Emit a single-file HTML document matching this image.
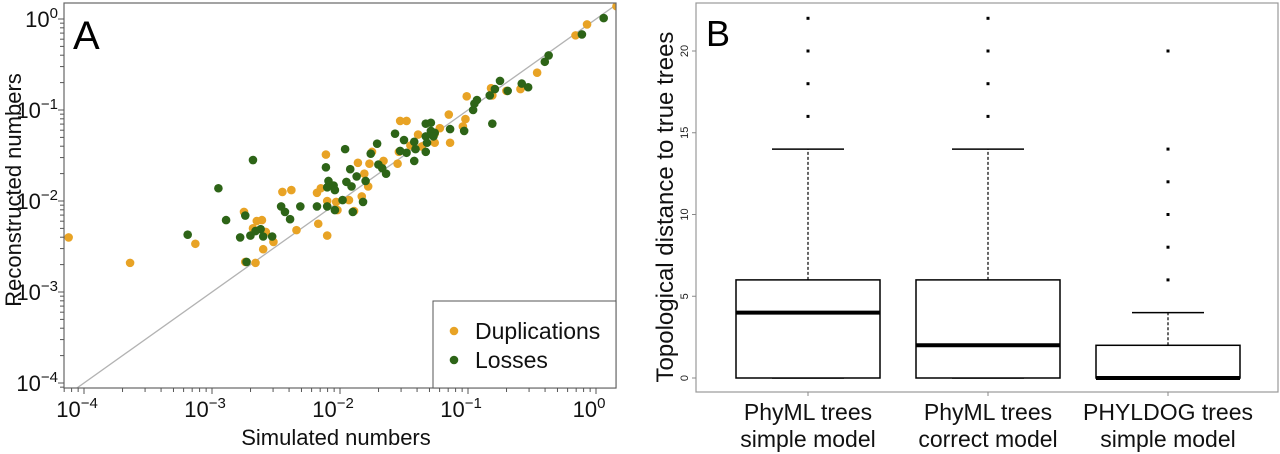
<!DOCTYPE html>
<html><head><meta charset="utf-8"><style>
html,body{margin:0;padding:0;background:#fff;width:1280px;height:454px;overflow:hidden}
svg{display:block;font-family:"Liberation Sans",Arial,sans-serif}
</style></head><body>
<svg id="fig" width="1280" height="454" viewBox="0 0 1280 454">
<g id="pa"></g>
<g id="pb"></g>
</svg>
<script>
// ---- Panel A data (log10 values) ----
const dupSimLog=[-4.12,-3.64,-3.13,-2.75,-2.65,-2.61,-2.68,-2.58,-2.60,-2.52,-2.74,-2.66,-2.45,-2.38,-2.34,-2.17,-2.18,-2.15,-2.11,-2.10,-2.10,-2.02,-2.03,-1.93,-1.89,-1.83,-1.86,-1.81,-1.78,-1.77,-1.75,-1.66,-1.55,-1.54,-1.53,-1.48,-1.45,-1.39,-1.36,-1.26,-1.22,-1.26,-1.15,-1.14,-1.02,-1.04,-1.01,-0.82,-0.81,-0.70,-0.59,-0.46,-0.16,-0.07,0.16];
const dupRecLog=[-2.40,-2.68,-2.47,-2.12,-2.22,-2.21,-2.30,-2.34,-2.53,-2.45,-2.67,-2.68,-1.90,-1.88,-2.32,-2.25,-1.91,-1.86,-1.49,-2.00,-2.38,-2.10,-2.01,-1.99,-2.11,-1.95,-1.58,-1.70,-1.84,-1.59,-1.46,-1.56,-1.59,-1.46,-1.12,-1.12,-1.39,-1.27,-1.40,-1.36,-1.20,-1.26,-1.05,-1.36,-1.10,-1.18,-0.85,-0.76,-0.84,-0.79,-0.77,-0.59,-0.18,-0.06,0.14];
const lossSimLog=[-3.19,-2.95,-2.89,-2.78,-2.74,-2.68,-2.70,-2.66,-2.62,-2.60,-2.53,-2.73,-2.46,-2.43,-2.39,-2.31,-2.18,-2.11,-2.09,-2.10,-2.05,-2.04,-2.10,-2.04,-1.98,-1.96,-1.92,-1.95,-1.91,-1.87,-1.90,-1.82,-1.80,-1.76,-1.71,-1.70,-1.67,-1.64,-1.57,-1.53,-1.50,-1.48,-1.42,-1.41,-1.42,-1.33,-1.33,-1.32,-1.33,-1.29,-1.29,-1.26,-1.27,-1.14,-1.03,-0.96,-0.95,-0.93,-0.81,-0.83,-0.79,-0.75,-0.69,-0.58,-0.53,-0.40,-0.37,-0.11,0.06];
const lossRecLog=[-2.37,-1.86,-2.21,-2.40,-2.16,-1.55,-2.38,-2.33,-2.31,-2.39,-2.39,-2.67,-2.06,-2.12,-2.20,-2.06,-2.06,-1.63,-1.78,-1.85,-1.83,-1.88,-2.06,-2.10,-1.99,-1.43,-1.65,-1.79,-1.84,-1.73,-2.12,-2.01,-1.78,-1.48,-1.37,-1.60,-1.64,-1.70,-1.26,-1.45,-1.33,-1.47,-1.35,-1.43,-1.56,-1.15,-1.29,-1.36,-1.46,-1.14,-1.23,-1.25,-1.29,-1.21,-1.23,-1.00,-0.93,-0.89,-1.15,-0.84,-0.77,-0.68,-0.79,-0.71,-0.75,-0.47,-0.40,-0.17,0.01];
const xDecades=[-4,-3,-2,-1,0];
const yDecades=[0,-1,-2,-3,-4];
// ---- Panel B data ----
const categories=[["PhyML trees","simple model"],["PhyML trees","correct model"],["PHYLDOG trees","simple model"]];
const q1=[0,0,0];
const medians=[4,2,0];
const q3=[6,6,2];
const whiskerLow=[0,0,0];
const whiskerHigh=[14,14,4];
const outliers=[[16,18,20,22],[16,18,20,22],[6,8,10,12,14,20]];
const bTicks=[0,5,10,15,20];

const NS="http://www.w3.org/2000/svg";
function mk(tag,attrs,parent,text){const e=document.createElementNS(NS,tag);for(const k in attrs)e.setAttribute(k,attrs[k]);if(text!==undefined)e.textContent=text;parent.appendChild(e);return e;}

// ===== Panel A =====
const pa=document.getElementById('pa');
const AL=64,AR=616,AT=3,AB=388;
const ax=l=>596+128*l;
const ay=l=>19-91*l;
const d0=-4.2,d1=0.2;
let clip=mk('clipPath',{id:'cA'},pa);mk('rect',{x:AL,y:AT,width:AR-AL,height:AB-AT},clip);
let diag=mk('line',{x1:ax(d0),y1:ay(d0),x2:ax(d1),y2:ay(d1),stroke:'#b3b3b3','stroke-width':1.3,'clip-path':'url(#cA)'},pa);


const gD=mk('g',{'clip-path':'url(#cA)'},pa);


dupSimLog.forEach((v,i)=>{const c=mk('circle',{cx:ax(v),cy:ay(dupRecLog[i]),r:4.3,fill:'#E8A325'},gD);

});
const gL=mk('g',{'clip-path':'url(#cA)'},pa);


lossSimLog.forEach((v,i)=>{const c=mk('circle',{cx:ax(v),cy:ay(lossRecLog[i]),r:4.3,fill:'#2D6417'},gL);

});
let fr=mk('rect',{x:AL,y:AT,width:AR-AL,height:AB-AT,fill:'none',stroke:'#666','stroke-width':1.2},pa);


const xa=mk('g',{},pa);


for(let d=-5;d<=0;d++){for(let m=1;m<10;m++){const l=d+Math.log10(m);const x=ax(l);if(x<AL||x>AR)continue;
mk('line',{x1:x,y1:AB,x2:x,y2:AB+(m===1?6:4),stroke:'#555','stroke-width':1},xa);}}
xDecades.forEach(d=>{const t=mk('text',{x:ax(d)-7,y:AB+29,'font-size':22,'text-anchor':'middle',fill:'#111'},xa);


mk('tspan',{},t,'10');mk('tspan',{dy:-9,'font-size':15},t,d===0?'0':'\u2212'+(-d));});
const xt=mk('text',{x:336,y:445,'font-size':22,'text-anchor':'middle',fill:'#111'},pa,'Simulated numbers');


const ya=mk('g',{},pa);


for(let d=-5;d<=0;d++){for(let m=1;m<10;m++){const l=d+Math.log10(m);const y=ay(l);if(y<AT||y>AB)continue;
mk('line',{x1:AL,y1:y,x2:AL-(m===1?6:4),y2:y,stroke:'#555','stroke-width':1},ya);}}
yDecades.forEach(d=>{const t=mk('text',{x:58,y:ay(d)+8,'font-size':22,'text-anchor':'end',fill:'#111'},ya);


mk('tspan',{},t,'10');mk('tspan',{dy:-9,'font-size':15},t,d===0?'0':'\u2212'+(-d));});
const yt=mk('text',{x:0,y:0,'font-size':22,'text-anchor':'middle',fill:'#111',transform:'translate(21,190) rotate(-90)'},pa,'Reconstructed numbers');


const la=mk('text',{x:73,y:49,'font-size':40,fill:'#000'},pa,'A');


const lg=mk('g',{},pa);


mk('rect',{x:433,y:301,width:AR-433,height:AB-301,fill:'#fff',stroke:'#555','stroke-width':1},lg);
mk('circle',{cx:454,cy:331,r:4.3,fill:'#E8A325'},lg);
const l1=mk('text',{x:475,y:339,'font-size':23,fill:'#111'},lg,'Duplications');


mk('circle',{cx:454,cy:360,r:4.3,fill:'#2D6417'},lg);
const l2=mk('text',{x:475,y:368,'font-size':23,fill:'#111'},lg,'Losses');



// ===== Panel B =====
const pb=document.getElementById('pb');
const BL=696,BR=1278,BT=3,BB=392;
const by=v=>378-16.35*v;
const bx=i=>808+180*i;
const BW=144;
let fb=mk('rect',{x:BL,y:BT,width:BR-BL,height:BB-BT,fill:'none',stroke:'#999','stroke-width':1.2},pb);


const byax=mk('g',{},pb);


bTicks.forEach(v=>{mk('line',{x1:BL,y1:by(v),x2:BL-4,y2:by(v),stroke:'#888'},byax);
const t=mk('text',{x:0,y:0,'font-size':11,'text-anchor':'middle',fill:'#222',transform:`translate(${BL-8},${by(v)}) rotate(-90)`},byax,String(v));

});
const byt=mk('text',{x:0,y:0,'font-size':24,'text-anchor':'middle',fill:'#111',transform:'translate(673,207) rotate(-90)'},pb,'Topological distance to true trees');


const lb=mk('text',{x:706,y:46,'font-size':36,fill:'#000'},pb,'B');


categories.forEach((c,i)=>{
const g=mk('g',{},pb);


const x=bx(i);
mk('line',{x1:x,y1:by(q3[i]),x2:x,y2:by(whiskerHigh[i]),stroke:'#000','stroke-width':1.2,'stroke-dasharray':'3,2'},g);
mk('line',{x1:x-BW/4,y1:by(whiskerHigh[i]),x2:x+BW/4,y2:by(whiskerHigh[i]),stroke:'#000','stroke-width':1.5},g);
mk('line',{x1:x-BW/4,y1:by(whiskerLow[i]),x2:x+BW/4,y2:by(whiskerLow[i]),stroke:'#000','stroke-width':1.5},g);
mk('rect',{x:x-BW/2,y:by(q3[i]),width:BW,height:by(q1[i])-by(q3[i]),fill:'#fff',stroke:'#000','stroke-width':1.5},g);
mk('line',{x1:x-BW/2,y1:by(medians[i]),x2:x+BW/2,y2:by(medians[i]),stroke:'#000','stroke-width':4},g);
outliers[i].forEach(v=>{const o=mk('rect',{x:x-1.5,y:by(v)-1.5,width:3,height:3,fill:'#000'},g);

});
mk('line',{x1:x,y1:BB,x2:x,y2:BB+4,stroke:'#888'},g);
const t=mk('text',{x:x,y:420,'font-size':23,'text-anchor':'middle',fill:'#111'},pb);


mk('tspan',{x:x},t,c[0]);mk('tspan',{x:x,dy:27},t,c[1]);
});
</script>
</body></html>
